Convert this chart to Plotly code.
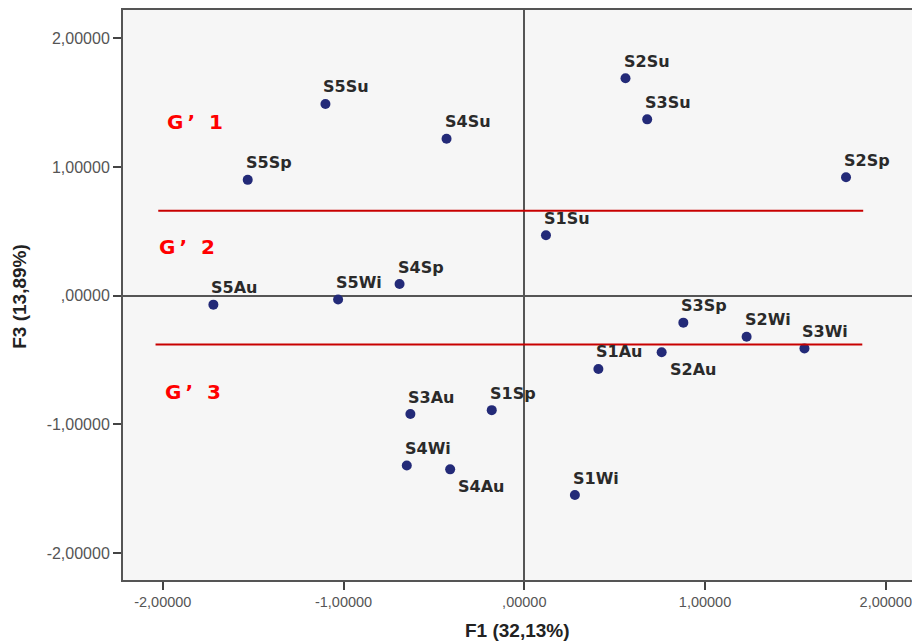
import plotly.graph_objects as go

# ---- data ----
labels = ["S5Su", "S4Su", "S2Su", "S3Su", "S5Sp", "S2Sp", "S1Su", "S5Au", "S5Wi", "S4Sp",
          "S3Sp", "S2Wi", "S3Wi", "S1Au", "S2Au", "S3Au", "S1Sp", "S4Wi", "S4Au", "S1Wi"]
f1 = [-1.10, -0.43, 0.56, 0.68, -1.53, 1.78, 0.12, -1.72, -1.03, -0.69,
      0.88, 1.23, 1.55, 0.41, 0.76, -0.63, -0.18, -0.65, -0.41, 0.28]
f3 = [1.49, 1.22, 1.69, 1.37, 0.90, 0.92, 0.47, -0.07, -0.03, 0.09,
      -0.21, -0.32, -0.41, -0.57, -0.44, -0.92, -0.89, -1.32, -1.35, -1.55]
below = ["S2Au", "S4Au"]  # labels drawn under the point

# group separator lines
sep_y = [0.66, -0.38]
sep_x0 = [-2.025, -2.04]
sep_x1 = [1.875, 1.87]

group_names = ["G\u2009\u2019\u00a0\u00a01", "G\u2009\u2019\u00a0\u00a02", "G\u2009\u2019\u00a0\u00a03"]
group_x = [-1.99, -2.03, -2.00]
group_y = [1.35, 0.38, -0.75]

tick_vals = [-2, -1, 0, 1, 2]
tick_text = ["-2,00000", "-1,00000", ",00000", "1,00000", "2,00000"]

fig = go.Figure()

fig.add_trace(go.Scatter(
    x=f1, y=f3, mode="markers",
    marker=dict(color="#232a78", size=10, line=dict(width=0)),
    hoverinfo="text", text=labels, showlegend=False,
))

for xx, yy, lab in zip(f1, f3, labels):
    if lab in below:
        fig.add_annotation(x=xx, y=yy, text=lab, showarrow=False, xanchor="left", yanchor="middle",
                           xshift=6, yshift=-17,
                           font=dict(family="DejaVu Sans", size=16, color="#2a2a2a", weight="bold"))
    else:
        fig.add_annotation(x=xx, y=yy, text=lab, showarrow=False, xanchor="left", yanchor="middle",
                           xshift=-4, yshift=17,
                           font=dict(family="DejaVu Sans", size=16, color="#2a2a2a", weight="bold"))

for yy, a, b in zip(sep_y, sep_x0, sep_x1):
    fig.add_trace(go.Scatter(x=[a, b], y=[yy, yy], mode="lines",
                             line=dict(color="#c80000", width=2), hoverinfo="skip", showlegend=False))

for name, gx, gy in zip(group_names, group_x, group_y):
    fig.add_annotation(x=gx, y=gy, text=name, showarrow=False, xanchor="left", yanchor="middle",
                       font=dict(family="DejaVu Sans", size=20, color="#ff0000", weight="bold"))

fig.add_annotation(xref="paper", yref="paper", x=0.5, y=-0.088, text="F1 (32,13%)",
                   showarrow=False, xanchor="center", yanchor="middle",
                   font=dict(family="Liberation Sans", size=19, color="#222222", weight="bold"))
fig.add_annotation(xref="paper", yref="paper", x=-0.1305, y=0.497, text="F3 (13,89%)",
                   showarrow=False, xanchor="center", yanchor="middle", textangle=-90,
                   font=dict(family="Liberation Sans", size=19, color="#222222", weight="bold"))

axis_common = dict(
    showgrid=False, tickvals=tick_vals, ticktext=tick_text,
    ticks="outside", ticklen=8, tickwidth=2, tickcolor="#444",
    showline=True, linecolor="#555555", linewidth=2,
    zeroline=True, zerolinecolor="#555555", zerolinewidth=1.5,
    ticklabeloverflow="allow",
)

fig.update_layout(
    width=912, height=641,
    margin=dict(l=123, r=0, t=10, b=61, autoexpand=False),
    paper_bgcolor="white", plot_bgcolor="#f6f6f6",
    xaxis=dict(range=[-2.22, 2.145], mirror=True,
               tickfont=dict(family="Liberation Sans", size=14.5, color="#555555"), **axis_common),
    yaxis=dict(range=[-2.21, 2.22], mirror=False,
               tickfont=dict(family="Liberation Sans", size=16, color="#555555"), **axis_common),
)

fig.write_html("out.html", config={"displayModeBar": False},
               post_script="document.body.style.margin='0';document.body.style.overflow='hidden';")
